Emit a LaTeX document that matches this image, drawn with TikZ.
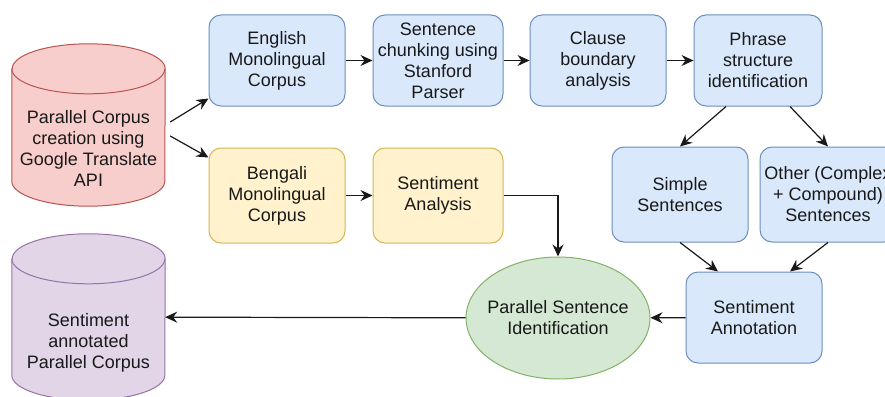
\documentclass[tikz,border=0pt]{standalone}
\usepackage{xcolor}
\usepackage{fontspec}
\setmainfont{Liberation Sans}
\usepackage{tikz}
\usetikzlibrary{shapes.geometric,arrows.meta,positioning}

\definecolor{bluefill}{HTML}{DAE8FC}
\definecolor{blueline}{HTML}{6C8EBF}
\definecolor{yellowfill}{HTML}{FFF2CC}
\definecolor{yellowline}{HTML}{D6B656}
\definecolor{redfill}{HTML}{F8CECC}
\definecolor{redline}{HTML}{B85450}
\definecolor{greenfill}{HTML}{D5E8D4}
\definecolor{greenline}{HTML}{82B366}
\definecolor{purplefill}{HTML}{E1D5E7}
\definecolor{purpleline}{HTML}{9673A6}

\newcommand\drawcyl[3]{%
  \draw[fill=#2, draw=#3, line width=1pt]
    ([yshift=-25pt]#1.north west) -- ([yshift=25pt]#1.south west)
    arc[start angle=180, end angle=360, x radius=76.5pt, y radius=25pt]
    -- ([yshift=-25pt]#1.north east)
    arc[start angle=0, end angle=180, x radius=76.5pt, y radius=25pt] -- cycle;
  \draw[draw=#3, line width=1pt] ([yshift=-25pt]#1.north west)
    arc[start angle=180, end angle=360, x radius=76.5pt, y radius=25pt];
}

\begin{document}
\begin{tikzpicture}[x=1pt, y=-1pt,
  txt/.style={align=center, text=black!90, font=\fontsize{18}{21}\selectfont},
  box/.style={draw, rectangle, rounded corners=12pt, line width=1pt, minimum width=136pt, minimum height=91pt, inner sep=0pt, txt},
  bluebox/.style={box, fill=bluefill, draw=blueline},
  yellowbox/.style={box, fill=yellowfill, draw=yellowline, minimum height=95pt},
  arr/.style={-{Stealth[length=12pt,width=11pt,inset=4pt]}, line width=1.2pt, draw=black!90}]

\useasboundingbox (0,0) rectangle (885,396);
\clip (0,0) rectangle (885,396);

\node (src) [minimum width=153pt, minimum height=162pt, inner sep=0pt] at (88.5,125) {};
\drawcyl{src}{redfill}{redline}
\node (srctext) [txt] at ([yshift=-23pt]src.center) {Parallel Corpus\\creation using\\Google Translate\\API};

\node (english) [bluebox] at (277,60.5) {English\\Monolingual\\Corpus};
\node (chunk) [bluebox, minimum width=130pt, right=27pt of english] {Sentence\\chunking using\\Stanford\\Parser};
\node (clause) [bluebox, right=26pt of chunk] {Clause\\boundary\\analysis};
\node (phrase) [bluebox, minimum width=128pt, right=27pt of clause] {Phrase\\structure\\identification};

\node (bengali) [yellowbox, below=41pt of english] {Bengali\\Monolingual\\Corpus};
\node (senti) [yellowbox, minimum width=130pt, right=27pt of bengali] {Sentiment\\Analysis};

\node (simple) [bluebox, minimum height=95pt] at (680,194.5) {Simple\\Sentences};
\node (other) [bluebox, minimum height=95pt, right=11pt of simple] {Other (Complex\\+ Compound)\\Sentences};
\node (annot) [bluebox] at (754,317.5) {Sentiment\\Annotation};

\node (psi) [ellipse, draw=greenline, fill=greenfill, line width=1pt, minimum width=184pt, minimum height=122pt, inner sep=0pt,
  label={[txt]center:Parallel Sentence\\Identification}] at (558,318) {};

\node (out) [minimum width=153pt, minimum height=166pt, inner sep=0pt] at (88.5,317) {};
\drawcyl{out}{purplefill}{purpleline}
\node (outtext) [txt] at ([yshift=-26pt]out.center) {Sentiment\\annotated\\Parallel Corpus};

\draw[arr] ([xshift=5pt,yshift=3pt]src.east) -- ([yshift=8pt]english.south west);
\draw[arr] ([xshift=5pt,yshift=-11pt]src.east) -- ([yshift=-10pt]bengali.north west);
\draw[arr] (english) -- (chunk);
\draw[arr] (chunk) -- (clause);
\draw[arr] (clause) -- (phrase);
\draw[arr] (bengali) -- (senti);
\draw[arr] (senti.east) -| (psi.north);
\draw[arr] ([xshift=-32pt]phrase.south) -- (simple.north);
\draw[arr] ([xshift=32pt]phrase.south) -- (other.north);
\draw[arr] (simple.south) -- ([xshift=-36pt]annot.north);
\draw[arr] (other.south) -- ([xshift=36pt]annot.north);
\draw[arr] (annot) -- (psi);
\draw[arr] (psi) -- (out);
\end{tikzpicture}
\end{document}
